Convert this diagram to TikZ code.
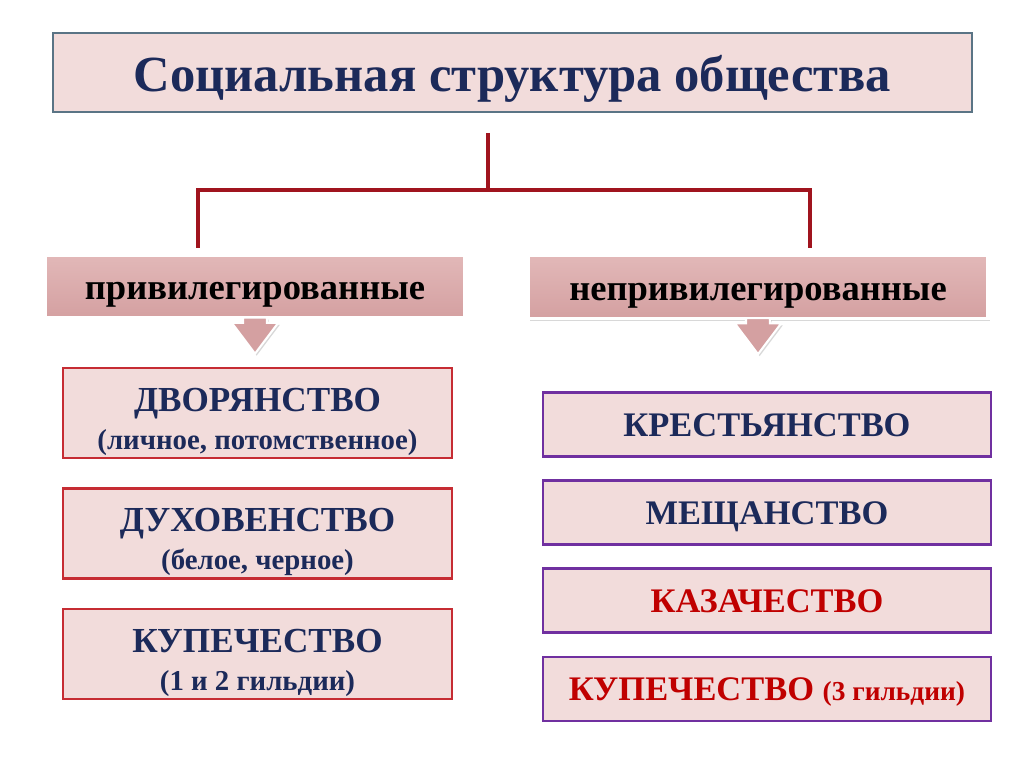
\documentclass[tikz,border=0pt]{standalone}
\usepackage{fontspec}
\setmainfont{Liberation Serif}
\usetikzlibrary{positioning,calc,shadows}

\definecolor{paper}{HTML}{F2DCDB}
\definecolor{titleframe}{HTML}{5A7485}
\definecolor{navy}{HTML}{1C2A5A}
\definecolor{redtext}{HTML}{C00000}
\definecolor{linkred}{HTML}{A0141E}
\definecolor{framered}{HTML}{C62C33}
\definecolor{framepurple}{HTML}{7030A0}
\definecolor{catlight}{HTML}{E2B8B8}
\definecolor{catdark}{HTML}{D4A0A1}

\begin{document}
\begin{tikzpicture}[
    node distance=0.7cm,
    head/.style={rectangle, draw=titleframe, line width=1.6pt, fill=paper, text=navy, minimum width=22.98cm, minimum height=1.98cm, text height=27.8pt, text depth=0pt, font=\fontsize{36}{40}\selectfont\bfseries},
    cat/.style={rectangle, draw=white, line width=2.4pt, top color=catlight, bottom color=catdark, minimum height=1.575cm, text height=19pt, text depth=0pt, font=\fontsize{26}{30}\selectfont\bfseries, drop shadow={opacity=0.3, shadow xshift=0.6mm, shadow yshift=-0.6mm}},
    lbox/.style={rectangle, draw=framered, line width=1.8pt, fill=paper, text=navy, align=center, inner ysep=0pt, minimum width=9.725cm, minimum height=2.25cm, font=\fontsize{25}{27}\selectfont\bfseries},
    rbox/.style={rectangle, draw=framepurple, line width=1.8pt, fill=paper, text=navy, minimum width=11.2cm, minimum height=1.6cm, text height=16.5pt, text depth=0pt, font=\fontsize{24.5}{28}\selectfont\bfseries},
    link/.style={draw=linkred, line width=2.8pt},
    chevron/.style={draw=white, line width=1.5pt, fill=catdark, drop shadow={opacity=0.3, shadow xshift=0.4mm, shadow yshift=-0.5mm}}
]
    \useasboundingbox[fill=white] (0,0) rectangle (25.6,-19.175);

    \node[head] (title) at (12.81,-1.81) {Социальная структура общества};

    \node[cat, minimum width=10.5cm] (priv) at (6.375,-7.1625) {привилегированные};
    \node[cat, minimum width=11.5cm] (npriv) at (18.95,-7.175) {непривилегированные};

    \begin{scope}[shift={(priv.south)}]
        \path[chevron] (-0.3,0.05) -- (-0.3,-0.08) -- (-0.58,-0.08) -- (0,-0.85) -- (0.58,-0.08) -- (0.3,-0.08) -- (0.3,0.05) -- cycle;
    \end{scope}
    \begin{scope}[shift={(npriv.south)}]
        \path[chevron] (-0.3,0.05) -- (-0.3,-0.08) -- (-0.58,-0.08) -- (0,-0.85) -- (0.58,-0.08) -- (0.3,-0.08) -- (0.3,0.05) -- cycle;
    \end{scope}

    \node[lbox] (dvor) at (6.4375,-10.325) {\rule{0pt}{29pt}ДВОРЯНСТВО\\{\fontsize{20.5}{22}\selectfont(личное, потомственное)}};
    \node[lbox, below=of dvor] (duch) {\rule{0pt}{29pt}ДУХОВЕНСТВО\\{\fontsize{20.5}{22}\selectfont(белое, черное)}};
    \node[lbox, below=of duch] (kupl) {\rule{0pt}{29pt}КУПЕЧЕСТВО\\{\fontsize{20.5}{22}\selectfont(1 и 2 гильдии)}};

    \node[rbox] (krest) at (19.175,-10.6125) {КРЕСТЬЯНСТВО};
    \node[rbox, below=0.54cm of krest] (mesh) {МЕЩАНСТВО};
    \node[rbox, below=0.54cm of mesh, text=redtext] (kaz) {КАЗАЧЕСТВО};
    \node[rbox, below=0.54cm of kaz, text=redtext] (kupr) {КУПЕЧЕСТВО {\fontsize{19.5}{22}\selectfont(3 гильдии)}};

    \coordinate (root) at (12.2,-3.325);
    \coordinate (fork) at (12.2,-4.75);
    \coordinate (lend) at (4.95,-6.2);
    \coordinate (rend) at (20.25,-6.2);

    \draw[link] (root) -- (fork);
    \draw[link] (lend) |- (fork) -| (rend);
\end{tikzpicture}
\end{document}
